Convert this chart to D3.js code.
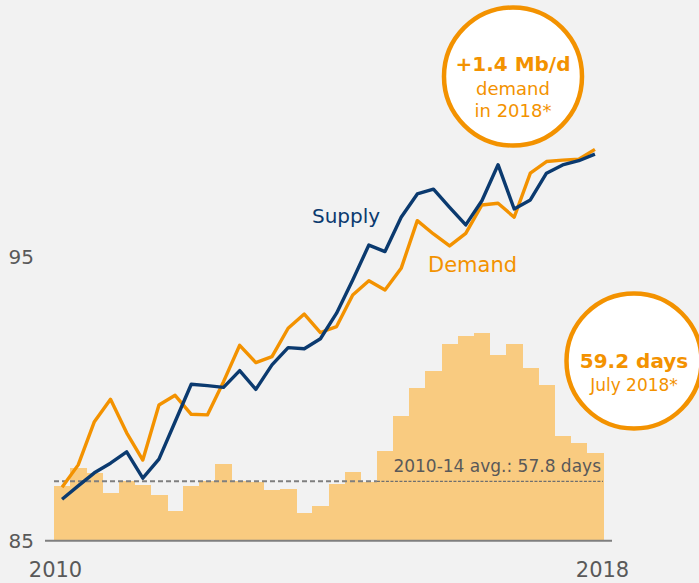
<!DOCTYPE html>
<html>
<head>
<meta charset="utf-8">
<script src="https://cdn.jsdelivr.net/npm/d3@7"></script>
<style>
  body { margin: 0; background: #f2f2f2; }
  svg { display: block; font-family: "DejaVu Sans", sans-serif; }
</style>
</head>
<body>
<div class="chart"></div>
<script>
// quarters 1Q2010 .. 2Q2018
const quarters = ["1Q10", "2Q10", "3Q10", "4Q10", "1Q11", "2Q11", "3Q11", "4Q11",
    "1Q12", "2Q12", "3Q12", "4Q12", "1Q13", "2Q13", "3Q13", "4Q13",
    "1Q14", "2Q14", "3Q14", "4Q14", "1Q15", "2Q15", "3Q15", "4Q15",
    "1Q16", "2Q16", "3Q16", "4Q16", "1Q17", "2Q17", "3Q17", "4Q17",
    "1Q18", "2Q18"];

// supply / demand in Mb/d
const demand = [86.88, 87.67, 89.19, 89.98, 88.80, 87.84, 89.78, 90.12, 89.45, 89.43,
    90.60, 91.88, 91.27, 91.48, 92.48, 92.98, 92.33, 92.54, 93.65, 94.15,
    93.83, 94.59, 96.27, 95.80, 95.38, 95.82, 96.82, 96.88, 96.39, 97.94,
    98.35, 98.40, 98.43, 98.78];
const supply = [86.46, 86.93, 87.39, 87.73, 88.13, 87.20, 87.87, 89.19, 90.51, 90.46,
    90.40, 90.99, 90.33, 91.19, 91.80, 91.76, 92.11, 93.01, 94.18, 95.41,
    95.18, 96.39, 97.21, 97.38, 96.74, 96.12, 96.97, 98.24, 96.68, 97.00,
    97.94, 98.23, 98.38, 98.61];

// stocks in days of forward demand
const stockDays = [57.58, 58.47, 58.22, 57.21, 57.80, 57.63, 57.14, 56.35, 57.57, 57.83,
    58.65, 57.83, 57.77, 57.37, 57.42, 56.26, 56.59, 57.65, 58.27, 57.77,
    59.28, 60.98, 62.38, 63.18, 64.51, 64.93, 65.04, 64.00, 64.52, 63.36,
    62.51, 60.02, 59.67, 59.20];
const avgDays = 57.8;
const avgQuarters = 20; // 2010-14

const yTicks = [85, 95];
const yearTicks = [2010, 2018];

const orange = "#f39200", navy = "#0b3a6f", barFill = "#f9cb80", grey = "#595959";

const w = 699, h = 583;
const svg = d3.select("div.chart")
    .append("svg")
    .attr("width", w)
    .attr("height", h);

// scales
const x = d3.scaleBand().domain(quarters).range([54, 603]).padding(0);
const y = d3.scaleLinear().domain([85, 95]).range([540.7, 256.7]);
const yDays = d3.scaleLinear().domain([57.8, 59.2]).range([481.3, 452.7]);
const yr = d3.scaleLinear().domain([2010, 2018]).range([55, 602]);
const base = y(85);

// stock bars
svg.append("g")
    .attr("shape-rendering", "crispEdges")
    .selectAll("rect")
    .data(stockDays)
    .enter()
    .append("rect")
    .attr("x", (d, i) => x(quarters[i]))
    .attr("y", d => yDays(d))
    .attr("width", x.bandwidth() + 0.5)
    .attr("height", d => base - yDays(d))
    .attr("fill", barFill);

// average line: thicker over 2010-14, fine after
const xSplit = x(quarters[avgQuarters]);
svg.append("line")
    .attr("x1", x(quarters[0])).attr("x2", xSplit)
    .attr("y1", yDays(avgDays)).attr("y2", yDays(avgDays))
    .attr("stroke", "#7f7f7f").attr("stroke-width", 2)
    .attr("stroke-dasharray", "5,3");
svg.append("line")
    .attr("x1", xSplit).attr("x2", x(quarters[quarters.length - 1]) + x.bandwidth())
    .attr("y1", yDays(avgDays)).attr("y2", yDays(avgDays))
    .attr("stroke", "#6f6f6f").attr("stroke-width", 1.2)
    .attr("stroke-dasharray", "3,1.5");

svg.append("text")
    .attr("x", 601)
    .attr("y", 471.5)
    .attr("text-anchor", "end")
    .attr("font-size", "17px")
    .attr("fill", grey)
    .text("2010-14 avg.: " + avgDays + " days");

// bottom axis line + year labels
const xAxis = svg.append("g")
    .attr("transform", "translate(0," + base + ")")
    .call(d3.axisBottom(yr).tickValues(yearTicks).tickFormat(d3.format("d")).tickSize(0));
xAxis.select(".domain").remove();
xAxis.selectAll("text")
    .attr("y", 36.5).attr("dy", null)
    .attr("font-size", "21px")
    .attr("font-family", "DejaVu Sans")
    .attr("fill", grey);
svg.append("line")
    .attr("x1", 45).attr("x2", 612)
    .attr("y1", base).attr("y2", base)
    .attr("stroke", "#7f7f7f").attr("stroke-width", 2);

// left tick labels
const yAxis = svg.append("g")
    .attr("transform", "translate(45,0)")
    .call(d3.axisLeft(y).tickValues(yTicks).tickSize(0).tickPadding(11));
yAxis.select(".domain").remove();
yAxis.selectAll("text")
    .attr("font-size", "20px")
    .attr("font-family", "DejaVu Sans")
    .attr("fill", grey);

// lines
const line = d3.line()
    .x((d, i) => x(quarters[i]) + x.bandwidth() / 2)
    .y(d => y(d));

svg.append("path")
    .datum(demand)
    .attr("d", line)
    .attr("fill", "none")
    .attr("stroke", orange)
    .attr("stroke-width", 3.4)
    .attr("stroke-linejoin", "round");

svg.append("path")
    .datum(supply)
    .attr("d", line)
    .attr("fill", "none")
    .attr("stroke", navy)
    .attr("stroke-width", 3.4)
    .attr("stroke-linejoin", "round");

svg.append("text")
    .attr("x", 312).attr("y", 222.5)
    .attr("font-size", "20px")
    .attr("fill", navy)
    .text("Supply");

svg.append("text")
    .attr("x", 428).attr("y", 271.5)
    .attr("font-size", "21px")
    .attr("fill", orange)
    .text("Demand");

// callout circles
const callouts = [
    { cx: 513, cy: 76.5, r: 69, lines: [["+1.4 Mb/d", 20, "bold", 70.7], ["demand", 18, "normal", 95], ["in 2018*", 18, "normal", 116.7]] },
    { cx: 634, cy: 361, r: 67.5, lines: [["59.2 days", 20, "bold", 368], ["July 2018*", 17, "normal", 391]] }
];

const bubble = svg.selectAll("g.callout")
    .data(callouts)
    .enter()
    .append("g")
    .attr("class", "callout");

bubble.append("circle")
    .attr("cx", d => d.cx)
    .attr("cy", d => d.cy)
    .attr("r", d => d.r)
    .attr("fill", "#fff")
    .attr("stroke", orange)
    .attr("stroke-width", 4.5);

bubble.each(function(d) {
    d3.select(this).selectAll("text")
        .data(d.lines)
        .enter()
        .append("text")
        .attr("x", d.cx)
        .attr("y", l => l[3])
        .attr("text-anchor", "middle")
        .attr("font-size", l => l[1] + "px")
        .attr("font-weight", l => l[2])
        .attr("fill", orange)
        .text(l => l[0]);
});
</script>
</body>
</html>
